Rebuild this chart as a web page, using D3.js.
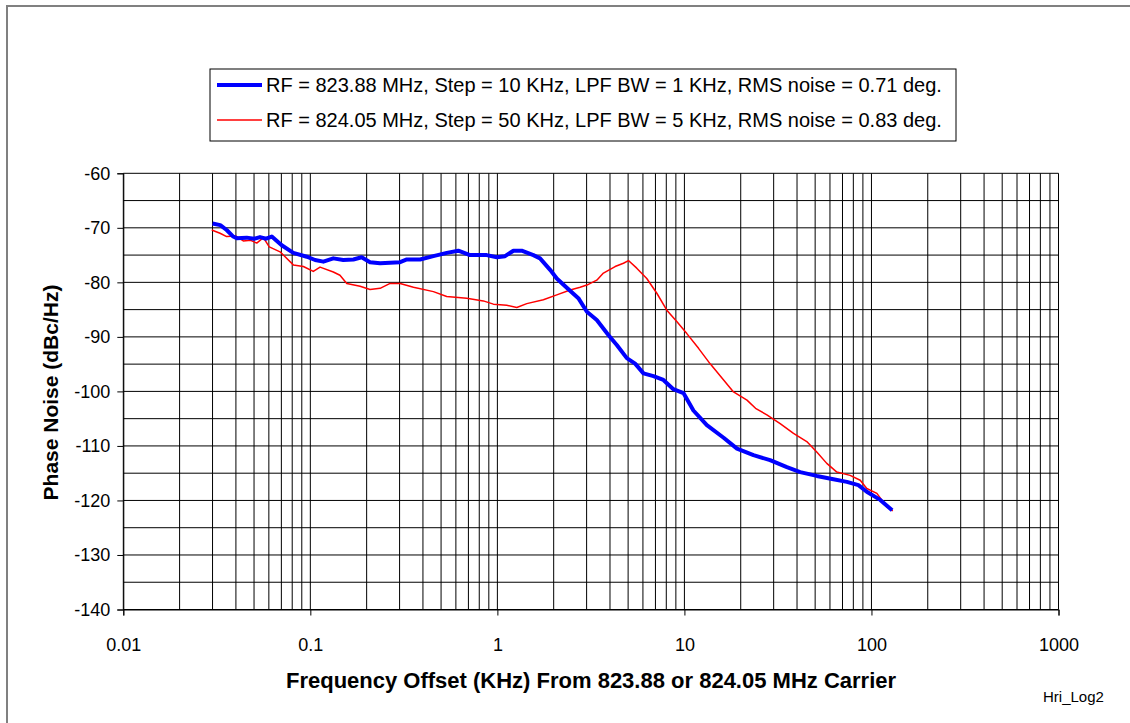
<!DOCTYPE html>
<html>
<head>
<meta charset="utf-8">
<script src="https://cdn.jsdelivr.net/npm/d3@7"></script>
<style>
  html, body { margin: 0; padding: 0; background: #fff; }
  #container { width: 1130px; height: 723px; }
  text { font-family: "Liberation Sans", Arial, sans-serif; fill: #000; }
</style>
</head>
<body>
<div id="container"></div>
<script>
// frequency offset (KHz) and phase noise (dBc/Hz)
const blueFreq = [0.030, 0.033, 0.0357, 0.0387, 0.0404, 0.0457, 0.050, 0.0538, 0.058, 0.0622,
    0.0703, 0.0811, 0.0957, 0.106, 0.1174, 0.1327, 0.150, 0.170, 0.188, 0.2085,
    0.236, 0.302, 0.328, 0.386, 0.455, 0.536, 0.618, 0.714, 0.877, 0.993,
    1.099, 1.218, 1.349, 1.558, 1.691, 1.914, 2.078, 2.35, 2.71, 3.01,
    3.40, 3.93, 4.35, 4.92, 5.45, 6.04, 6.83, 7.72, 8.73, 9.88,
    11.17, 13.18, 16.2, 19.1, 23.4, 28.7, 35.3, 41.6, 51.0, 62.6,
    73.9, 85.2, 94.4, 111.4, 129];
const blueNoise = [-69.2, -69.5, -70.4, -71.6, -71.9, -71.8, -72.0, -71.7, -72.0, -71.6,
    -73.2, -74.6, -75.3, -75.9, -76.2, -75.6, -75.9, -75.8, -75.4, -76.3,
    -76.5, -76.3, -75.8, -75.8, -75.2, -74.6, -74.2, -75.0, -75.0, -75.4,
    -75.2, -74.2, -74.2, -75.0, -75.6, -77.7, -79.3, -81.0, -82.9, -85.4,
    -86.9, -89.7, -91.5, -93.9, -94.9, -96.7, -97.2, -97.9, -99.6, -100.3,
    -103.5, -106.2, -108.5, -110.5, -111.7, -112.6, -113.9, -114.8, -115.5, -116.1,
    -116.6, -117.2, -118.4, -119.9, -121.8];

const redFreq = [0.0297, 0.0329, 0.0357, 0.0400, 0.0438, 0.0480, 0.0517, 0.0561, 0.0603, 0.0689,
    0.0717, 0.0811, 0.0918, 0.1037, 0.1127, 0.1327, 0.144, 0.1566, 0.1845, 0.2085,
    0.236, 0.267, 0.302, 0.356, 0.455, 0.536, 0.686, 0.841, 0.952, 1.122,
    1.27, 1.436, 1.762, 2.078, 2.45, 2.77, 3.01, 3.40, 3.69, 4.26,
    4.72, 5.02, 5.56, 6.29, 7.12, 8.05, 9.10, 10.3, 11.9, 13.7,
    16.2, 18.3, 21.6, 24.0, 27.6, 32.5, 38.3, 45.1, 51.0, 57.7,
    65.3, 76.9, 87.1, 94.4, 106.9, 120.9, 130];
const redNoise = [-70.4, -71.0, -71.6, -71.5, -72.4, -72.3, -72.8, -71.8, -73.5, -74.4,
    -75.0, -76.8, -77.1, -78.0, -77.2, -78.1, -78.7, -80.2, -80.7, -81.3,
    -81.1, -80.2, -80.2, -80.9, -81.7, -82.6, -82.9, -83.4, -84.0, -84.2,
    -84.6, -83.9, -83.2, -82.3, -81.4, -80.9, -80.5, -79.6, -78.3, -77.1,
    -76.5, -76.0, -77.4, -79.3, -82.0, -85.1, -87.2, -89.4, -92.1, -94.9,
    -97.9, -100.1, -101.6, -103.1, -104.3, -105.9, -107.7, -109.2, -111.1, -113.2,
    -114.8, -115.4, -116.3, -117.8, -118.7, -121.2, -121.9];

const seriesNames = [
    "RF = 823.88 MHz, Step = 10 KHz, LPF BW = 1 KHz, RMS noise = 0.71 deg.",
    "RF = 824.05 MHz, Step = 50 KHz, LPF BW = 5 KHz, RMS noise = 0.83 deg."
];
const xTicks = [0.01, 0.1, 1, 10, 100, 1000];
const yTicks = [-140, -130, -120, -110, -100, -90, -80, -70, -60];

const width = 1130;
const height = 723;

const svg = d3.select("#container")
    .append("svg")
    .attr("width", width)
    .attr("height", height);

// outer chart frame
svg.append("rect")
    .attr("x", 7).attr("y", 6)
    .attr("width", width).attr("height", height)
    .attr("fill", "none")
    .attr("stroke", "#808080")
    .attr("stroke-width", 2);

const x = d3.scaleLog().domain([0.01, 1000]).range([123.3, 1058.5]);
const y = d3.scaleLinear().domain([-140, -60]).range([609.5, 173.3]);

// grid
const vGrid = [];
for (let e = -2; e <= 2; e++) {
    for (let k = 1; k <= 9; k++) vGrid.push(k * Math.pow(10, e));
}
vGrid.push(1000);
const hGrid = d3.range(-140, -59, 5);

const grid = svg.append("g").attr("class", "grid");
grid.selectAll("line.v")
    .data(vGrid)
    .join("line")
    .attr("class", "v")
    .attr("x1", d => x(d)).attr("x2", d => x(d))
    .attr("y1", y(-60)).attr("y2", y(-140))
    .attr("stroke", "#000")
    .attr("stroke-width", 1);
grid.selectAll("line.h")
    .data(hGrid)
    .join("line")
    .attr("class", "h")
    .attr("x1", x(0.01)).attr("x2", x(1000))
    .attr("y1", d => y(d)).attr("y2", d => y(d))
    .attr("stroke", "#000")
    .attr("stroke-width", 1);

// axes
const xAxis = svg.append("g")
    .attr("transform", `translate(0,${y(-140)})`)
    .call(d3.axisBottom(x).tickValues(xTicks).tickFormat(d => String(d)).tickSize(6).tickPadding(23));
const yAxis = svg.append("g")
    .attr("transform", `translate(${x(0.01)},0)`)
    .call(d3.axisLeft(y).tickValues(yTicks).tickSize(6).tickPadding(7).tickFormat(d => String(d)));

[xAxis, yAxis].forEach(a => {
    a.select(".domain").attr("stroke", "#000");
    a.selectAll(".tick line").attr("stroke", "#000");
    a.selectAll(".tick text")
        .attr("font-family", "Liberation Sans, Arial, sans-serif")
        .attr("font-size", 18)
        .attr("fill", "#000");
});

// series
const blueData = blueFreq.map((f, i) => ({ f, v: blueNoise[i] }));
const redData = redFreq.map((f, i) => ({ f, v: redNoise[i] }));

const line = d3.line()
    .x(d => x(d.f))
    .y(d => y(d.v));

svg.append("path")
    .datum(redData)
    .attr("d", line)
    .attr("fill", "none")
    .attr("stroke", "#ff0000")
    .attr("stroke-width", 1.5)
    .attr("stroke-linejoin", "round");

svg.append("path")
    .datum(blueData)
    .attr("d", line)
    .attr("fill", "none")
    .attr("stroke", "#0000ff")
    .attr("stroke-width", 4)
    .attr("stroke-linejoin", "round");

// axis titles
svg.append("text")
    .attr("x", 591)
    .attr("y", 688)
    .attr("text-anchor", "middle")
    .attr("font-size", 22)
    .attr("font-weight", "bold")
    .text("Frequency Offset (KHz) From 823.88 or 824.05 MHz Carrier");

svg.append("text")
    .attr("transform", "translate(58,392.5) rotate(-90)")
    .attr("text-anchor", "middle")
    .attr("font-size", 21)
    .attr("font-weight", "bold")
    .text("Phase Noise (dBc/Hz)");

svg.append("text")
    .attr("x", 1043)
    .attr("y", 702)
    .attr("font-size", 15)
    .text("Hri_Log2");

// legend
const legend = svg.append("g");
legend.append("rect")
    .attr("x", 210).attr("y", 69)
    .attr("width", 746).attr("height", 72)
    .attr("fill", "#fff")
    .attr("stroke", "#000")
    .attr("stroke-width", 1);

const legendColors = ["#0000ff", "#ff0000"];
const legendWidths = [4, 1.5];
const legendRows = [85, 120];
seriesNames.forEach((name, i) => {
    legend.append("line")
        .attr("x1", 217).attr("x2", 262)
        .attr("y1", legendRows[i]).attr("y2", legendRows[i])
        .attr("stroke", legendColors[i])
        .attr("stroke-width", legendWidths[i]);
    legend.append("text")
        .attr("x", 266)
        .attr("y", legendRows[i] + 7)
        .attr("font-size", 20)
        .text(name);
});
</script>
</body>
</html>
